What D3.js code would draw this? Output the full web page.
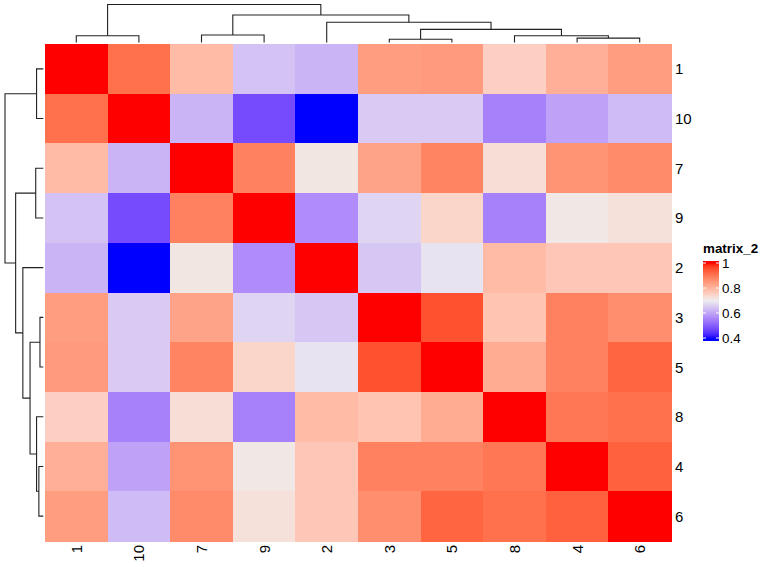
<!DOCTYPE html>
<html>
<head>
<meta charset="utf-8">
<script src="https://cdn.jsdelivr.net/npm/d3@7"></script>
<style>
  body { margin: 0; background: #fff; }
  text { font-family: "Liberation Sans", Arial, sans-serif; fill: #000; }
</style>
</head>
<body>
<div id="chart"></div>
<script>
// row / column order after clustering
const labels = ["1", "10", "7", "9", "2", "3", "5", "8", "4", "6"];

// correlation values, rows in the same order as labels
const values = [
  [1.000, 0.910, 0.790, 0.640, 0.620, 0.840, 0.845, 0.755, 0.810, 0.840],
  [0.910, 1.000, 0.620, 0.475, 0.400, 0.650, 0.650, 0.550, 0.595, 0.630],
  [0.790, 0.620, 1.000, 0.885, 0.715, 0.830, 0.880, 0.730, 0.855, 0.870],
  [0.640, 0.475, 0.885, 1.000, 0.565, 0.665, 0.745, 0.550, 0.710, 0.725],
  [0.620, 0.400, 0.715, 0.565, 1.000, 0.645, 0.685, 0.790, 0.770, 0.770],
  [0.840, 0.650, 0.830, 0.665, 0.645, 1.000, 0.950, 0.775, 0.885, 0.865],
  [0.845, 0.650, 0.880, 0.745, 0.685, 0.950, 1.000, 0.815, 0.885, 0.925],
  [0.755, 0.550, 0.730, 0.550, 0.790, 0.775, 0.815, 1.000, 0.900, 0.910],
  [0.810, 0.595, 0.855, 0.710, 0.770, 0.885, 0.885, 0.900, 1.000, 0.930],
  [0.840, 0.630, 0.870, 0.725, 0.770, 0.865, 0.925, 0.910, 0.930, 1.000]
];

// dendrogram merges: [left child, right child, height]; "mN" = merge N
const merges = [
  ["1", "10", 0.176],
  ["7", "9", 0.198],
  ["3", "5", 0.087],
  ["4", "6", 0.116],
  ["8", "m3", 0.176],
  ["m2", "m4", 0.346],
  ["2", "m5", 0.534],
  ["m1", "m6", 0.722],
  ["m0", "m7", 1.000]
];

const colorBreaks = [0.4, 0.7, 1];
const colorRange = ["blue", "#EEEEEE", "red"];
const legendTicks = [0.4, 0.6, 0.8, 1];
const legendTitle = "matrix_2";

const W = 764, H = 567;
const hm = { left: 45, right: 671, top: 44, bottom: 541 };

const svg = d3.select("#chart").append("svg")
  .attr("width", W)
  .attr("height", H)
  .attr("viewBox", `0 0 ${W} ${H}`);

const x = d3.scaleBand().domain(labels).range([hm.left, hm.right]);
const y = d3.scaleBand().domain(labels).range([hm.top, hm.bottom]);
const color = d3.scaleLinear()
  .domain(colorBreaks)
  .range(colorRange)
  .interpolate(d3.interpolateLab)
  .clamp(true);

// heatmap cells
const cells = [];
values.forEach((row, i) => row.forEach((v, j) => cells.push({ r: labels[i], c: labels[j], v: v })));

svg.append("g")
  .attr("shape-rendering", "crispEdges")
  .selectAll("rect")
  .data(cells)
  .enter()
  .append("rect")
  .attr("x", d => x(d.c))
  .attr("y", d => y(d.r))
  .attr("width", x.bandwidth() + 0.5)
  .attr("height", y.bandwidth() + 0.5)
  .attr("fill", d => color(d.v));

// row labels on the right
svg.append("g")
  .selectAll("text")
  .data(labels)
  .enter()
  .append("text")
  .attr("x", hm.right + 4)
  .attr("y", d => y(d) + y.bandwidth() / 2)
  .attr("dominant-baseline", "central")
  .style("font-size", "15px")
  .text(d => d);

// column labels underneath, rotated
svg.append("g")
  .selectAll("text")
  .data(labels)
  .enter()
  .append("text")
  .attr("transform", d => `translate(${x(d) + x.bandwidth() / 2},${hm.bottom + 4}) rotate(-90)`)
  .attr("text-anchor", "end")
  .attr("dominant-baseline", "central")
  .style("font-size", "15px")
  .text(d => d);

// dendrograms
function build_nodes(pos) {
  const nodes = {};
  labels.forEach(l => nodes[l] = { p: pos(l), h: 0 });
  merges.forEach((m, i) => {
    const a = nodes[m[0]], b = nodes[m[1]];
    nodes["m" + i] = { p: (a.p + b.p) / 2, h: m[2], a: a, b: b };
  });
  return merges.map((m, i) => nodes["m" + i]);
}

const maxH = d3.max(merges, d => d[2]);

// top (columns)
const topH = d3.scaleLinear().domain([0, maxH]).range([42.5, 4.5]);
svg.append("g")
  .selectAll("path")
  .data(build_nodes(l => x(l) + x.bandwidth() / 2))
  .enter()
  .append("path")
  .attr("d", n => `M${n.a.p},${topH(n.a.h)}V${topH(n.h)}H${n.b.p}V${topH(n.b.h)}`)
  .attr("fill", "none")
  .attr("stroke", "#222")
  .attr("stroke-width", 1.1);

// left (rows)
const leftH = d3.scaleLinear().domain([0, maxH]).range([43.3, 5]);
svg.append("g")
  .selectAll("path")
  .data(build_nodes(l => y(l) + y.bandwidth() / 2))
  .enter()
  .append("path")
  .attr("d", n => `M${leftH(n.a.h)},${n.a.p}H${leftH(n.h)}V${n.b.p}H${leftH(n.b.h)}`)
  .attr("fill", "none")
  .attr("stroke", "#222")
  .attr("stroke-width", 1.1);

// legend
const lg = { x: 703, w: 16, top: 261, bottom: 341 };
const legY = d3.scaleLinear().domain([0.4, 1]).range([338, 263]);

const defs = svg.append("defs");
const grad = defs.append("linearGradient")
  .attr("id", "legend_grad")
  .attr("x1", 0).attr("y1", 1)
  .attr("x2", 0).attr("y2", 0);
d3.range(0, 41).forEach(i => {
  const yy = lg.bottom - (lg.bottom - lg.top) * i / 40;
  grad.append("stop")
    .attr("offset", (i / 40 * 100) + "%")
    .attr("stop-color", color(legY.invert(yy)));
});

const legend = svg.append("g");
legend.append("text")
  .attr("x", lg.x)
  .attr("y", 253)
  .style("font-size", "13.4px")
  .style("font-weight", "bold")
  .text(legendTitle);

legend.append("rect")
  .attr("x", lg.x)
  .attr("y", lg.top)
  .attr("width", lg.w)
  .attr("height", lg.bottom - lg.top)
  .attr("fill", "url(#legend_grad)");

legend.selectAll(".tick_l")
  .data(legendTicks)
  .enter()
  .append("line")
  .attr("x1", lg.x).attr("x2", lg.x + 3)
  .attr("y1", d => legY(d)).attr("y2", d => legY(d))
  .attr("stroke", "#fff").attr("stroke-width", 1);

legend.selectAll(".tick_r")
  .data(legendTicks)
  .enter()
  .append("line")
  .attr("x1", lg.x + lg.w - 3).attr("x2", lg.x + lg.w)
  .attr("y1", d => legY(d)).attr("y2", d => legY(d))
  .attr("stroke", "#fff").attr("stroke-width", 1);

legend.selectAll(".lab")
  .data(legendTicks)
  .enter()
  .append("text")
  .attr("x", lg.x + lg.w + 3)
  .attr("y", d => legY(d))
  .attr("dominant-baseline", "central")
  .style("font-size", "13.4px")
  .text(d => d3.format("")(d));
</script>
</body>
</html>
